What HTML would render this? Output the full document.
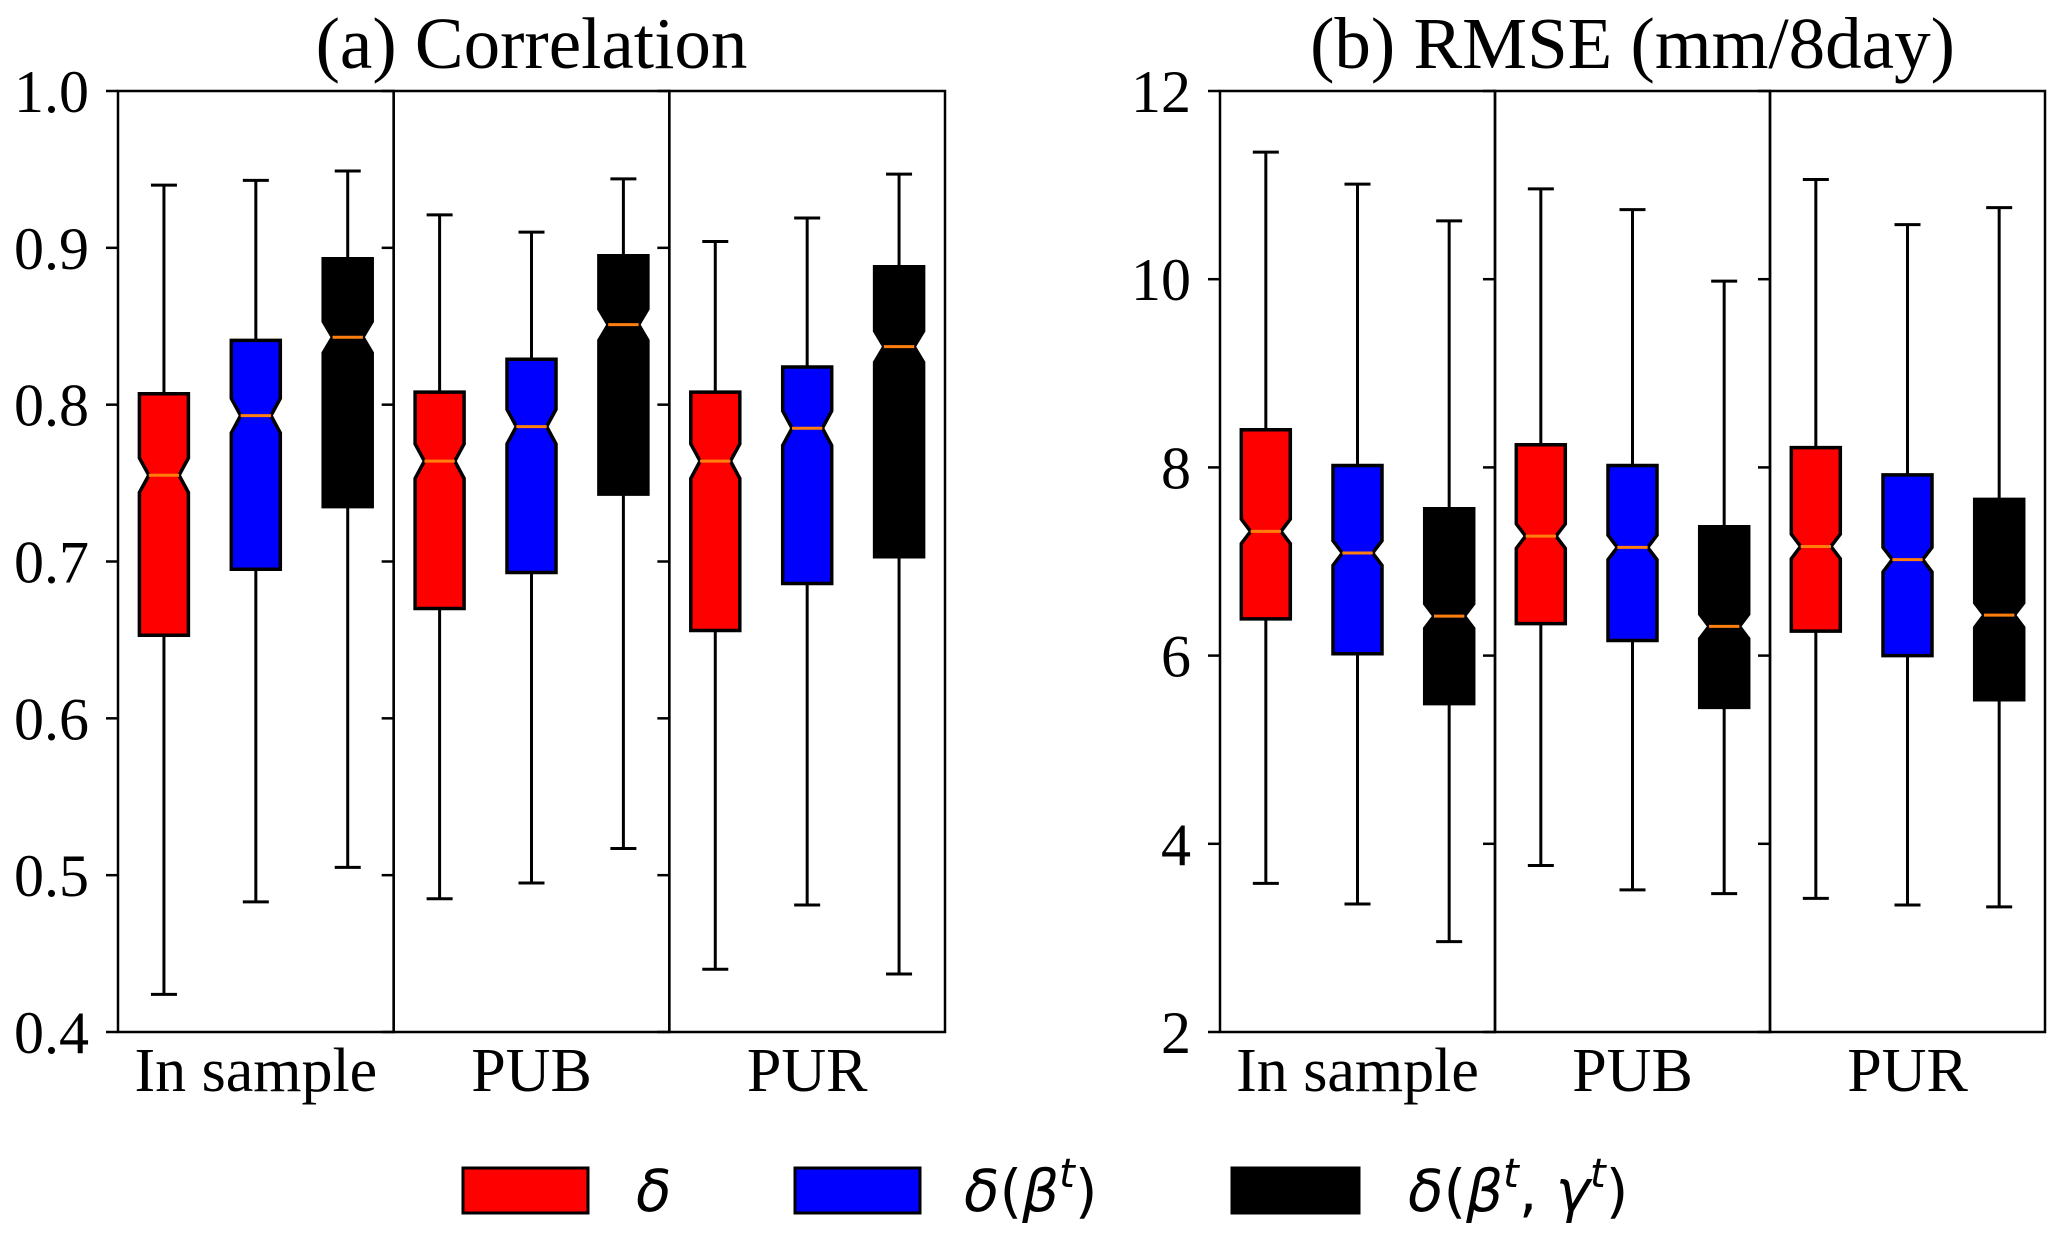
<!DOCTYPE html>
<html><head><meta charset="utf-8"><style>
html,body{margin:0;padding:0;background:#fff;}
svg{display:block;}
text{font-family:"Liberation Serif",serif;fill:#000;}
.leg{font-family:"DejaVu Sans",sans-serif;font-style:italic;}
.up{font-style:normal;}
</style></head><body>
<svg id="chart" width="2067" height="1242" viewBox="0 0 2067 1242" xmlns="http://www.w3.org/2000/svg">
<g id="legend">
  <rect x="463" y="1168" width="125" height="45" fill="#ff0000" stroke="#000" stroke-width="3"/>
  <text class="leg" x="636" y="1211" font-size="58">δ</text>
  <rect x="795" y="1168" width="125" height="45" fill="#0000ff" stroke="#000" stroke-width="3"/>
  <text class="leg" x="964" y="1211" font-size="58">δ<tspan class="up">(</tspan>β<tspan font-size="40" dy="-24">t</tspan><tspan class="up" dy="24">)</tspan></text>
  <rect x="1232" y="1168" width="127" height="45" fill="#000" stroke="#000" stroke-width="3"/>
  <text class="leg" x="1408" y="1211" font-size="58">δ<tspan class="up">(</tspan>β<tspan font-size="40" dy="-24">t</tspan><tspan class="up" dy="24">, </tspan>γ<tspan font-size="40" dy="-24">t</tspan><tspan class="up" dy="24">)</tspan></text>
</g>
</svg>
<script>
// ---- data ----
const groups = ["In sample", "PUB", "PUR"];
const seriesNames = ["delta", "delta-beta", "delta-beta-gamma"];
const seriesColors = ["#ff0000", "#0000ff", "#000000"];
// Correlation panel: per group, per series
const corrWhiskLo = [[0.424,0.483,0.505],[0.485,0.495,0.517],[0.440,0.481,0.437]];
const corrQ1      = [[0.653,0.695,0.735],[0.670,0.693,0.743],[0.656,0.686,0.703]];
const corrMedian  = [[0.755,0.793,0.843],[0.764,0.786,0.851],[0.764,0.785,0.837]];
const corrQ3      = [[0.807,0.841,0.893],[0.808,0.829,0.895],[0.808,0.824,0.888]];
const corrWhiskHi = [[0.940,0.943,0.949],[0.921,0.910,0.944],[0.904,0.919,0.947]];
const corrNotch   = [[0.011,0.011,0.010],[0.011,0.011,0.010],[0.011,0.011,0.010]];
const corrTicks = [0.4,0.5,0.6,0.7,0.8,0.9,1.0];
const corrTickLabels = ["0.4","0.5","0.6","0.7","0.8","0.9","1.0"];
// RMSE panel
const rmseWhiskLo = [[3.58,3.36,2.96],[3.77,3.51,3.47],[3.42,3.35,3.33]];
const rmseQ1      = [[6.39,6.02,5.49],[6.34,6.16,5.45],[6.26,6.00,5.53]];
const rmseMedian  = [[7.32,7.09,6.42],[7.27,7.15,6.31],[7.16,7.02,6.43]];
const rmseQ3      = [[8.40,8.02,7.56],[8.24,8.02,7.37],[8.21,7.92,7.66]];
const rmseWhiskHi = [[11.35,11.01,10.62],[10.96,10.74,9.98],[11.06,10.58,10.76]];
const rmseNotch   = [[0.13,0.13,0.13],[0.13,0.13,0.13],[0.13,0.13,0.13]];
const rmseTicks = [2,4,6,8,10,12];
const rmseTickLabels = ["2","4","6","8","10","12"];

const NS = "http://www.w3.org/2000/svg";
const svg = document.getElementById("chart");
function mk(tag, attrs, parent){
  const e = document.createElementNS(NS, tag);
  for (const k in attrs) e.setAttribute(k, attrs[k]);
  (parent||svg).appendChild(e);
  return e;
}
function drawPanel(p){
  const g = mk("g", {});
  
  
  const top = 91, bot = 1032;
  const yS = v => bot - (v - p.min) / (p.max - p.min) * (bot - top);
  const gw = (p.right - p.left) / 3;
  const t = mk("text", {x:(p.left+p.right)/2, y:68, "font-size":73, "text-anchor":"middle"}, g);
  t.textContent = p.title;
  
  
  p.ticks.forEach((v,i)=>{
    const tl = mk("text", {x:p.left-29, y:yS(v)+21, "font-size":60, "text-anchor":"end"}, g);
    tl.textContent = p.tickLabels[i];
    
    
  });
  groups.forEach((gname, gi)=>{
    const x0 = p.left + gi*gw, cx = x0 + gw/2;
    const sub = mk("g", {}, g);
    
    
    p.ticks.forEach(v=>{
      const tk = mk("line", {x1:x0-12, x2:x0, y1:yS(v), y2:yS(v), stroke:"#000", "stroke-width":2.5}, sub);
      
      
    });
    const lab = mk("text", {x:cx, y:1091, "font-size":62, "text-anchor":"middle"}, sub);
    lab.textContent = gname;
    
    
    seriesNames.forEach((sn, si)=>{
      const bx = cx + (si-1)*gw/3;
      const hw = 24.5, nw = hw*0.62, cw = 13;
      const lo=p.wl[gi][si], q1=p.q1[gi][si], md=p.md[gi][si], q3=p.q3[gi][si], hi=p.wh[gi][si], n=p.nt[gi][si];
      const bg = mk("g", {}, sub);
      
      
      const w1 = mk("line", {x1:bx, x2:bx, y1:yS(lo), y2:yS(q1), stroke:"#000", "stroke-width":3}, bg);
      
      
      const w2 = mk("line", {x1:bx, x2:bx, y1:yS(q3), y2:yS(hi), stroke:"#000", "stroke-width":3}, bg);
      
      
      const c1 = mk("line", {x1:bx-cw, x2:bx+cw, y1:yS(lo), y2:yS(lo), stroke:"#000", "stroke-width":3}, bg);
      
      
      const c2 = mk("line", {x1:bx-cw, x2:bx+cw, y1:yS(hi), y2:yS(hi), stroke:"#000", "stroke-width":3}, bg);
      
      
      const pts = [
        [bx-hw,yS(q1)],[bx+hw,yS(q1)],[bx+hw,yS(md-n)],[bx+nw,yS(md)],[bx+hw,yS(md+n)],
        [bx+hw,yS(q3)],[bx-hw,yS(q3)],[bx-hw,yS(md+n)],[bx-nw,yS(md)],[bx-hw,yS(md-n)]
      ].map(q=>q[0].toFixed(1)+","+q[1].toFixed(1)).join(" ");
      const poly = mk("polygon", {points:pts, fill:seriesColors[si], stroke:"#000", "stroke-width":3.5, "stroke-linejoin":"miter"}, bg);
      
      
      const ml = mk("line", {x1:bx-nw, x2:bx+nw, y1:yS(md), y2:yS(md), stroke:"#ff7f0e", "stroke-width":3}, bg);
      
      
    });
    const fr = mk("rect", {x:x0, y:top, width:gw, height:bot-top, fill:"none", stroke:"#000", "stroke-width":2.5}, sub);
    
    
  });
}
drawPanel({name:"correlation-panel", title:"(a) Correlation", left:118, right:945, min:0.4, max:1.0,
  ticks:corrTicks, tickLabels:corrTickLabels, wl:corrWhiskLo, q1:corrQ1, md:corrMedian, q3:corrQ3, wh:corrWhiskHi, nt:corrNotch});
drawPanel({name:"rmse-panel", title:"(b) RMSE (mm/8day)", left:1220, right:2045, min:2, max:12,
  ticks:rmseTicks, tickLabels:rmseTickLabels, wl:rmseWhiskLo, q1:rmseQ1, md:rmseMedian, q3:rmseQ3, wh:rmseWhiskHi, nt:rmseNotch});
</script>
</body></html>
